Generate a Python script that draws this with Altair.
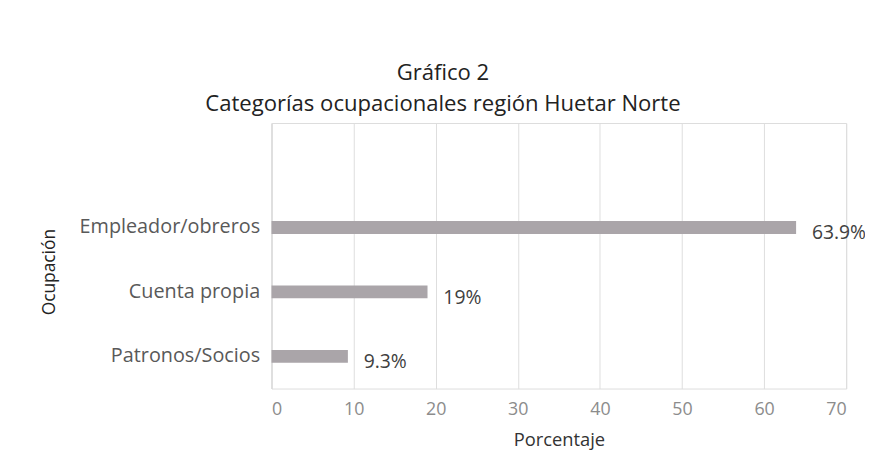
import altair as alt
import pandas as pd

categorias = ["Empleador/obreros", "Cuenta propia", "Patronos/Socios"]
valores = [63.9, 19.0, 9.3]
etiquetas = ["63.9%", "19%", "9.3%"]
ticks_x = [0, 10, 20, 30, 40, 50, 60, 70]

df = pd.DataFrame({"cat": categorias, "val": valores, "lab": etiquetas})

FONT = "Open Sans"

y_enc = alt.Y(
    "cat:N",
    sort=categorias,
    scale=alt.Scale(paddingInner=0, paddingOuter=0.56, align=1),
    axis=alt.Axis(
        title="Ocupación",
        titleFont=FONT, titleFontSize=17.5, titleFontWeight="normal", titleColor="#222222",
        titleX=-224, titleY=150, titleAngle=-90, titleAlign="center", titleBaseline="middle",
        labelFont=FONT, labelFontSize=20, labelColor="#595959", labelPadding=12, labelLimit=400,
        ticks=False, domain=True, domainColor="#d9d9d9", grid=False,
    ),
)

x_enc = alt.X(
    "val:Q",
    scale=alt.Scale(domain=[0, 70], nice=False, zero=True),
    axis=alt.Axis(
        title="Porcentaje", values=ticks_x,
        titleFont=FONT, titleFontSize=18.5, titleFontWeight="normal", titleColor="#333333",
        titlePadding=12,
        labelFont=FONT, labelFontSize=18, labelColor="#8c8c8c", labelPadding=12,
        ticks=False, domain=False, grid=True, gridColor="#dedede", gridWidth=1,
    ),
)

bars = alt.Chart(df).mark_bar(size=13, color="#aaa5a9").encode(x=x_enc, y=y_enc)

text = alt.Chart(df).mark_text(
    align="left", baseline="middle", dx=16, dy=6, font=FONT, fontSize=19.5, color="#404040"
).encode(x="val:Q", y=alt.Y("cat:N", sort=categorias), text="lab:N")

chart = (
    alt.layer(bars, text)
    .properties(
        width=580,
        height=268,
        title=alt.TitleParams(
            ["Gráfico 2", "Categorías ocupacionales región Huetar Norte"],
            font=FONT, fontSize=22.3, fontWeight="normal", color="#222222",
            anchor="middle", frame="group", dx=-117, offset=8, lineHeight=31,
        ),
        autosize=alt.AutoSizeParams(type="none"),
        padding={"left": 266, "top": 114, "right": 19, "bottom": 70},
    )
    .configure_view(stroke=None)
    .configure(background="white")
)

chart.save("out.html", embed_options={"renderer": "svg", "actions": False})
